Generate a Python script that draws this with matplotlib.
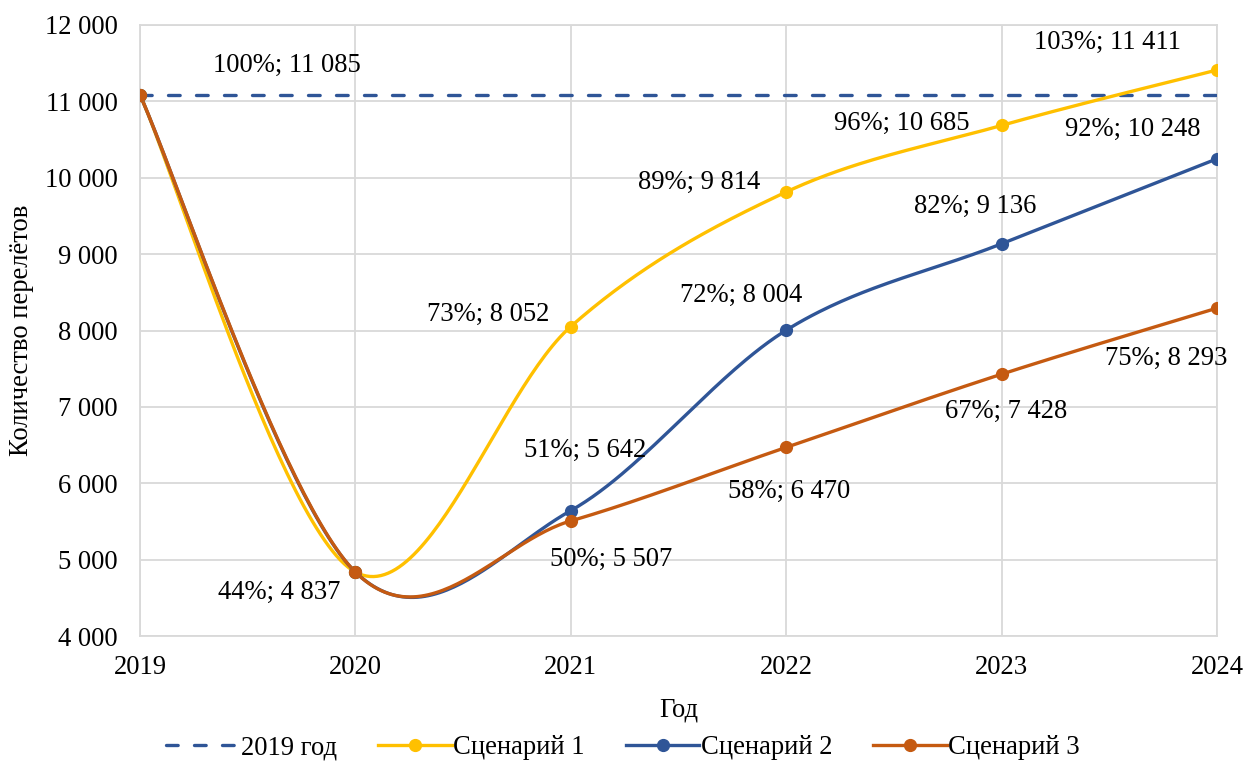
import numpy as np
import matplotlib.pyplot as plt
from matplotlib.lines import Line2D
from matplotlib.ticker import FuncFormatter

years = [2019, 2020, 2021, 2022, 2023, 2024]
base_2019 = 11085
scenario_1 = [11085, 4837, 8052, 9814, 10685, 11411]
scenario_2 = [11085, 4837, 5642, 8004, 9136, 10248]
scenario_3 = [11085, 4837, 5507, 6470, 7428, 8293]

# label offsets in pixels (dx, dy) for each point, None = no label
offs_1 = [None, None, (-83, 12), (-87, 10), (-100, 2), (-110, 28)]
offs_2 = [None, (-76, -20), (14, 60), (-45, 35), (-26, 37), (-84, 29)]
offs_3 = [None, None, (40, -39), (3, -44), (5, -37), (-51, -50)]

YELLOW = '#FFC000'
BLUE = '#2F5597'
ORANGE = '#C55A11'
GRID = '#D9D9D9'
SERIF = ['Liberation Serif', 'DejaVu Serif']

plt.rcParams['font.family'] = SERIF
FS = 19.2


def fmt_num(v):
    return f'{int(v):,}'.replace(',', ' ')


def excel_smooth(ax, xs, ys, n=60):
    # Bezier smoothing similar to spreadsheet "smoothed line", in display space
    pts = ax.transData.transform(np.column_stack([xs, ys]))
    out = [pts[0]]
    m = len(pts)
    t = np.linspace(0, 1, n)[1:, None]
    for i in range(m - 1):
        p0 = pts[max(i - 1, 0)]
        p1 = pts[i]
        p2 = pts[i + 1]
        p3 = pts[min(i + 2, m - 1)]
        d02 = np.linalg.norm(p2 - p0)
        d12 = np.linalg.norm(p2 - p1)
        d13 = np.linalg.norm(p3 - p1)
        f1 = 1 / 6 if d02 / 6 < d12 / 2 else d12 / (2 * d02)
        f2 = 1 / 6 if d13 / 6 < d12 / 2 else d12 / (2 * d13)
        b1 = p1 + (p2 - p0) * f1
        b2 = p2 - (p3 - p1) * f2
        seg = ((1 - t) ** 3) * p1 + 3 * ((1 - t) ** 2) * t * b1 + 3 * (1 - t) * t ** 2 * b2 + t ** 3 * p2
        out.extend(seg)
    res = ax.transData.inverted().transform(np.array(out))
    return res[:, 0], res[:, 1]


fig = plt.figure(figsize=(12.46, 7.65), dpi=100)
ax = fig.add_axes([140 / 1246, 1 - 636 / 765, (1217 - 140) / 1246, (636 - 25) / 765])
ax.set_xlim(2019, 2024)
ax.set_ylim(4000, 12000)

ax.set_xticks(years)
ax.set_yticks(range(4000, 12001, 1000))
ax.yaxis.set_major_formatter(FuncFormatter(lambda v, p: fmt_num(v)))
ax.grid(True, color=GRID, linewidth=1.3)
ax.set_axisbelow(True)
for s in ax.spines.values():
    s.set_color(GRID)
    s.set_linewidth(1.3)
ax.tick_params(length=0, labelsize=FS, pad=14, labelfontfamily=SERIF)
ax.tick_params(axis='y', pad=16)

lw = 2.4
ms = 8.5
ax.plot(years, [base_2019] * len(years), color=BLUE, lw=lw, dashes=(3.5, 4.9),
        dash_capstyle='round', zorder=3)

for vals, col in [(scenario_1, YELLOW), (scenario_2, BLUE), (scenario_3, ORANGE)]:
    sx, sy = excel_smooth(ax, years, vals)
    ax.plot(sx, sy, color=col, lw=lw, zorder=4, solid_capstyle='round')
    ax.plot(years, vals, 'o', color=col, ms=ms, zorder=5)


def label(x, v, off):
    pct = round(v / base_2019 * 100)
    ax.annotate(f'{pct}%; {fmt_num(v)}', (x, v), xytext=off, textcoords='offset pixels',
                ha='center', va='center', fontsize=FS, zorder=6)


label(years[0], base_2019, (147, 29))
for vals, offs in [(scenario_1, offs_1), (scenario_2, offs_2), (scenario_3, offs_3)]:
    for x, v, o in zip(years, vals, offs):
        if o is not None:
            label(x, v, o)

ax.set_xlabel('Год', fontsize=FS, labelpad=12)
ax.set_ylabel('Количество перелётов', fontsize=FS, labelpad=8)

handles = [
    Line2D([], [], color=BLUE, lw=lw, dashes=(3.5, 4.9), dash_capstyle='round'),
    Line2D([], [], color=YELLOW, lw=lw, marker='o', ms=ms),
    Line2D([], [], color=BLUE, lw=lw, marker='o', ms=ms),
    Line2D([], [], color=ORANGE, lw=lw, marker='o', ms=ms),
]
names = ['2019 год', 'Сценарий 1', 'Сценарий 2', 'Сценарий 3']
fig.legend(handles, names, loc='center', bbox_to_anchor=(0.5, 17 / 765), ncol=4,
           frameon=False, fontsize=FS, handlelength=2.75, handletextpad=0.05,
           columnspacing=1.55, borderpad=0)

fig.savefig('out.png', dpi=100)
